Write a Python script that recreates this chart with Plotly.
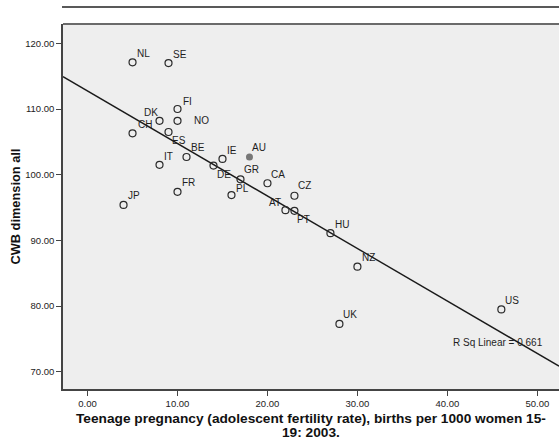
import plotly.graph_objects as go

# ---- data ----
countries = ["NL", "SE", "FI", "DK", "NO", "CH", "ES", "BE", "IT", "IE", "AU", "DE",
             "GR", "CA", "FR", "PL", "JP", "CZ", "AT", "PT", "HU", "NZ", "UK", "US"]
teen_fertility = [5, 9, 10, 8, 10, 5, 9, 11, 8, 15, 18, 14,
                  17, 20, 10, 16, 4, 23, 22, 23, 27, 30, 28, 46]
cwb_all = [117.1, 117.0, 110.0, 108.2, 108.2, 106.3, 106.5, 102.7, 101.5, 102.4, 102.7, 101.4,
           99.3, 98.7, 97.4, 96.9, 95.4, 96.8, 94.6, 94.5, 91.1, 86.0, 77.3, 79.5]
highlighted = ["AU"]
fit_intercept = 112.74
fit_slope = -0.799
r_sq_text = "R Sq Linear = 0.661"
x_ticks = [0, 10, 20, 30, 40, 50]
y_ticks = [70, 80, 90, 100, 110, 120]

# ---- styling ----
label_offsets = {  # pixel offsets (dx, dy screen-down) of each label centre from its point
    "NL": (11, -9), "SE": (11, -9), "FI": (10, -8), "DK": (-9, -8), "NO": (24, 0),
    "CH": (12, -9), "ES": (10, 8), "BE": (11, -9), "IT": (9, -8), "IE": (10, -8),
    "AU": (10, -9), "DE": (11, 9), "GR": (11, -10), "CA": (11, -9), "FR": (11, -9),
    "PL": (11, -7), "JP": (10, -9), "CZ": (10, -10), "AT": (-10, -8), "PT": (9, 9),
    "HU": (12, -9), "NZ": (11, -9), "UK": (11, -9), "US": (11, -9),
}
FONT = "Liberation Sans, Arial, sans-serif"
X_RANGE = [-2.73, 52.41]
Y_RANGE = [67.39, 122.94]

fig = go.Figure()

# regression line
fig.add_trace(go.Scatter(
    x=X_RANGE, y=[fit_intercept + fit_slope * X_RANGE[0], fit_intercept + fit_slope * X_RANGE[1]],
    mode="lines", line=dict(color="#1a1a1a", width=1.4), hoverinfo="skip", showlegend=False))

open_x = [x for x, c in zip(teen_fertility, countries) if c not in highlighted]
open_y = [y for y, c in zip(cwb_all, countries) if c not in highlighted]
fill_x = [x for x, c in zip(teen_fertility, countries) if c in highlighted]
fill_y = [y for y, c in zip(cwb_all, countries) if c in highlighted]

fig.add_trace(go.Scatter(
    x=open_x, y=open_y, mode="markers",
    marker=dict(symbol="circle-open", size=7, color="#2a2a2a", line=dict(width=1.2)),
    showlegend=False))
fig.add_trace(go.Scatter(
    x=fill_x, y=fill_y, mode="markers",
    marker=dict(symbol="circle", size=7, color="#777777", line=dict(width=0)),
    showlegend=False))

annotations = []
for c, x, y in zip(countries, teen_fertility, cwb_all):
    dx, dy = label_offsets[c]
    annotations.append(dict(
        x=x, y=y, xref="x", yref="y", text=c, showarrow=False,
        xanchor="center", yanchor="middle", xshift=dx, yshift=-dy,
        font=dict(family=FONT, size=10, color="#1e1e1e")))

annotations.append(dict(
    x=45.67, y=74.49, xref="x", yref="y", text=r_sq_text, showarrow=False,
    xanchor="center", yanchor="middle",
    font=dict(family=FONT, size=10, color="#1e1e1e")))

# axis titles
annotations.append(dict(
    x=0.5, y=0, xref="paper", yref="paper", showarrow=False,
    text="<b>Teenage pregnancy (adolescent fertility rate), births per 1000 women 15-</b>",
    xanchor="center", yanchor="middle", yshift=-29,
    font=dict(family=FONT, size=13.7, color="#111111")))
annotations.append(dict(
    x=0.5, y=0, xref="paper", yref="paper", showarrow=False,
    text="<b>19: 2003.</b>",
    xanchor="center", yanchor="middle", yshift=-43,
    font=dict(family=FONT, size=13.7, color="#111111")))
annotations.append(dict(
    x=0, y=0.5, xref="paper", yref="paper", showarrow=False,
    text="<b>CWB dimension all</b>", textangle=-90,
    xanchor="center", yanchor="middle", xshift=-48,
    font=dict(family=FONT, size=12.8, color="#111111")))

shapes = [
    # top border of plot frame
    dict(type="line", xref="paper", yref="paper", x0=0, x1=1, y0=1, y1=1,
         line=dict(color="#6a6a6a", width=2)),
    # line above the chart
    dict(type="line", xref="paper", yref="paper", x0=-0.002, x1=1, y0=1.0466, y1=1.0466,
         line=dict(color="#222222", width=1.5)),
]

fig.update_layout(
    width=559, height=441,
    margin=dict(l=63, r=0, t=24, b=52),
    paper_bgcolor="white", plot_bgcolor="#eeeeee",
    annotations=annotations, shapes=shapes,
    xaxis=dict(range=X_RANGE, tickvals=x_ticks, ticktext=[f"{v:.2f}" for v in x_ticks],
               showgrid=False, zeroline=False, showline=True, linecolor="#444444", linewidth=1.5,
               ticks="outside", ticklen=5, tickcolor="#444444", tickwidth=1.2,
               tickfont=dict(family=FONT, size=9.5, color="#222222")),
    yaxis=dict(range=Y_RANGE, tickvals=y_ticks, ticktext=[f"{v:.2f}" for v in y_ticks],
               showgrid=False, zeroline=False, showline=True, linecolor="#444444", linewidth=1.5,
               ticks="outside", ticklen=5, tickcolor="#444444", tickwidth=1.2,
               tickfont=dict(family=FONT, size=9.5, color="#222222")),
)

fig.write_html("out.html")
